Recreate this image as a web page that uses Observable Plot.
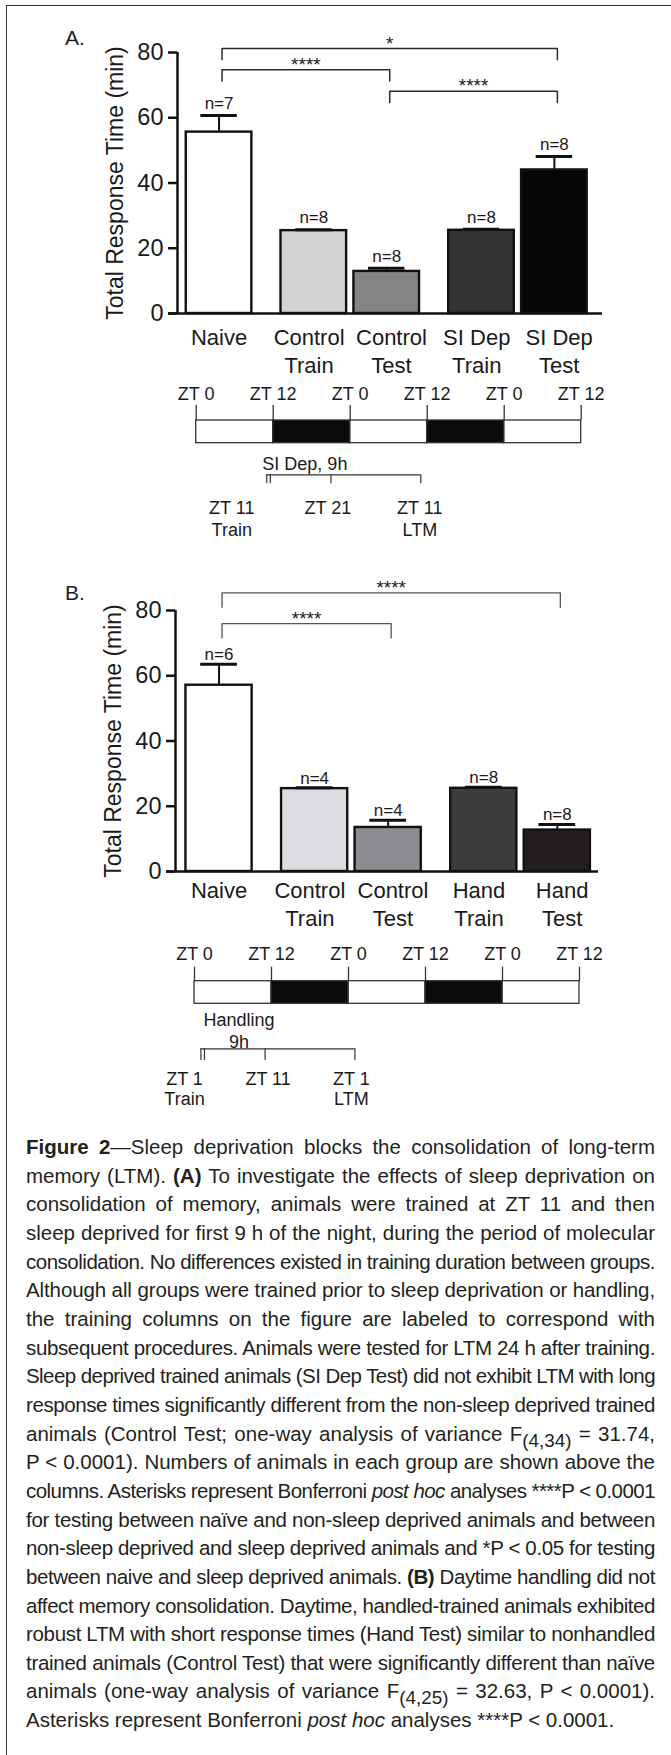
<!DOCTYPE html>
<html>
<head>
<meta charset="utf-8">
<script src="https://cdn.jsdelivr.net/npm/d3@7"></script>
<script src="https://cdn.jsdelivr.net/npm/@observablehq/plot@0.6"></script>
<style>
html, body { margin: 0; padding: 0; background: #fff; }
#page { position: relative; width: 671px; height: 1755px; overflow: hidden; background: #fff;
  font-family: "Liberation Sans", Arial, Helvetica, sans-serif; color: #231f20; }
.abs { position: absolute; }
.panel-letter { font-size: 21px; line-height: 1; }
.chart svg { overflow: visible; }
.chart g[aria-label^="y-axis"] path, .chart g[aria-label^="y-axis"] line { stroke-width: 2.5px; stroke: #111; }
#caption { position: absolute; left: 26px; top: 1133px; width: 629px; font-size: 20.5px; line-height: 28.65px; color: #231f20; }
#caption .ln { white-space: nowrap; }
#caption sub { font-size: 0.92em; vertical-align: -0.32em; line-height: 0; }
</style>
</head>
<body>
<div id="page"></div>
<script>
// ---------------- DATA ----------------
// Panel A
const categoriesA = ["Naive", "Control Train", "Control Test", "SI Dep Train", "SI Dep Test"];
const tickLabelsA = ["Naive", "Control\nTrain", "Control\nTest", "SI Dep\nTrain", "SI Dep\nTest"];
const groupsA = ["Naive", "Control", "Control", "SI Dep", "SI Dep"];
const meansA = [55.6, 25.4, 12.9, 25.5, 44.0];
const semA = [5.1, 0.3, 1.0, 0.3, 4.1];
const nA = [7, 8, 8, 8, 8];
const bracketFromA = ["Naive", "Naive", "Control Test"];
const bracketToA = ["SI Dep Test", "Control Test", "SI Dep Test"];
const bracketLevelA = [81.2, 74.7, 68.1];
const bracketLabelA = ["*", "****", "****"];

// Panel B
const categoriesB = ["Naive", "Control Train", "Control Test", "Hand Train", "Hand Test"];
const tickLabelsB = ["Naive", "Control\nTrain", "Control\nTest", "Hand\nTrain", "Hand\nTest"];
const groupsB = ["Naive", "Control", "Control", "Hand", "Hand"];
const meansB = [57.1, 25.4, 13.5, 25.5, 12.7];
const semB = [6.4, 0.3, 2.2, 0.3, 1.7];
const nB = [6, 4, 4, 8, 8];
const bracketFromB = ["Naive", "Naive"];
const bracketToB = ["Hand Test", "Control Test"];
const bracketLevelB = [85.4, 76.0];
const bracketLabelB = ["****", "****"];

const yTicks = [0, 20, 40, 60, 80];
const yLabel = "Total Response Time (min)";

// Timelines (hours from first ZT 0)
const ztHours = [0, 12, 24, 36, 48, 60];
const ztLabels = ["ZT 0", "ZT 12", "ZT 0", "ZT 12", "ZT 0", "ZT 12"];
const eventHoursA = [11, 21, 35];
const eventLabelsA = ["ZT 11\nTrain", "ZT 21", "ZT 11\nLTM"];
const treatmentA = "SI Dep, 9h";
const eventHoursB = [1, 11, 25];
const eventLabelsB = ["ZT 1\nTrain", "ZT 11", "ZT 1\nLTM"];
const treatmentB = "Handling\n9h";

// ---------------- STYLES ----------------
const FONT = '"Liberation Sans", Arial, Helvetica, sans-serif';
const fillsA = ["#ffffff", "#d3d3d3", "#848484", "#333333", "#060606"];
const fillsB = ["#ffffff", "#dcdde0", "#8d8e91", "#3c3c3e", "#231f20"];
const GROUP_GAP = 0.3, HALF = 0.45, CAP = 0.25, LABEL_SPREAD = 0.065;

function barChart(o) {
  const gOrder = [...new Set(o.groups)];
  const rows = o.cats.map((c, i) => {
    const members = o.groups.filter(g => g === o.groups[i]).length;
    const within = o.groups.slice(0, i).filter(g => g === o.groups[i]).length;
    return {
      cat: c, label: o.labels[i], mean: o.means[i], sem: o.sem[i], n: o.ns[i],
      pos: i + GROUP_GAP * gOrder.indexOf(o.groups[i]),
      spread: members > 1 ? (within === 0 ? -LABEL_SPREAD : LABEL_SPREAD) : 0
    };
  });
  const posOf = Object.fromEntries(rows.map(r => [r.cat, r.pos]));
  const br = o.bFrom.map((f, k) => ({k, from: posOf[f], to: posOf[o.bTo[k]], y: o.bLevel[k], label: o.bLabel[k]}));
  const brPts = br.flatMap(b => [
    {k: b.k, x: b.from, y: b.y - o.leg}, {k: b.k, x: b.from, y: b.y},
    {k: b.k, x: b.to, y: b.y}, {k: b.k, x: b.to, y: b.y - o.leg}
  ]);
  return Plot.plot({
    width: 671, height: 375,
    marginTop: 52, marginBottom: 62, marginLeft: o.marginLeft, marginRight: o.marginRight,
    style: {fontFamily: FONT, fontSize: "23.5px", color: "#1a1a1a", background: "transparent", overflow: "visible"},
    x: {domain: o.domainX, axis: null},
    y: {domain: [0, 80], ticks: yTicks, tickSize: 9, tickPadding: 5, label: null},
    color: {domain: o.cats, range: o.fills},
    marks: [
      Plot.rect(rows, {x1: d => d.pos - HALF, x2: d => d.pos + HALF, y1: 0, y2: "mean", fill: "cat", stroke: "#111", strokeWidth: 2.4}),
      Plot.ruleX(rows, {x: "pos", y1: "mean", y2: d => d.mean + d.sem, stroke: "#111", strokeWidth: 2}),
      Plot.ruleY(rows, {y: d => d.mean + d.sem, x1: d => d.pos - CAP, x2: d => d.pos + CAP, stroke: "#111", strokeWidth: 3}),
      Plot.text(rows, {x: "pos", y: d => d.mean + d.sem, text: d => "n=" + d.n, dy: o.nDy, fontSize: 17}),
      Plot.text(rows, {x: d => d.pos + d.spread, y: 0, text: "label", lineAnchor: "top", dy: o.labelDy, lineHeight: 1.28, fontSize: 22}),
      Plot.line(brPts, {x: "x", y: "y", z: "k", stroke: o.bStroke, strokeWidth: o.bWidth, dx: 3}),
      Plot.text(br, {x: b => (b.from + b.to) / 2, y: "y", text: "label", dy: -5, dx: 3, fontSize: 19}),
      Plot.ruleX([o.domainX[0]], {y1: 0, y2: 80, stroke: "#111", strokeWidth: 2.5}),
      Plot.ruleY([0], {insetLeft: -9, stroke: "#111", strokeWidth: 2.5}),
      Plot.text([yLabel], {text: d => d, frameAnchor: "left", textAnchor: "middle", lineAnchor: "middle", rotate: -90, dx: -62, fontSize: 23})
    ]
  });
}

function timeline(o) {
  const L = o.layout;
  const phases = ztHours.slice(0, -1).map((h, i) => ({start: h, end: ztHours[i + 1], dark: ztLabels[i] === "ZT 12"}));
  const ev = o.events;
  return Plot.plot({
    width: 671, height: 180,
    marginTop: 0, marginBottom: 0, marginLeft: o.marginLeft, marginRight: 671 - o.marginLeft - 385,
    style: {fontFamily: FONT, fontSize: "18px", color: "#1a1a1a", background: "transparent", overflow: "visible"},
    x: {domain: [0, 60], axis: null},
    y: {domain: [0, 180], range: [0, 180], axis: null},
    marks: [
      Plot.rect(phases.filter(p => !p.dark), {x1: "start", x2: "end", y1: L.barTop, y2: L.barBottom, fill: "#fff", stroke: "#333", strokeWidth: 1.3}),
      Plot.rect(phases.filter(p => p.dark), {x1: "start", x2: "end", y1: L.barTop, y2: L.barBottom, fill: "#0b0b0b", stroke: "#333", strokeWidth: 1.3}),
      Plot.ruleX(ztHours, {x: d => d, y1: L.tickTop, y2: L.barTop, stroke: "#333", strokeWidth: 1.3}),
      Plot.text(ztHours, {x: d => d, y: L.zt, text: (d, i) => ztLabels[i], fontSize: 18}),
      // treatment bracket
      Plot.ruleY([L.bracket], {x1: ev[0], x2: ev[2], stroke: "#333", strokeWidth: 1.2}),
      Plot.ruleX([ev[0], ev[0] + 0.55, ev[1], ev[2]], {x: d => d, y1: L.bracket, y2: L.bracketTick, stroke: "#333", strokeWidth: 1.2}),
      Plot.text([o.treatment], {x: (ev[0] + ev[1]) / 2, y: L.treat, text: d => d, lineAnchor: "top", lineHeight: 1.2, dx: 6, fontSize: 18}),
      // event labels
      Plot.text([o.eventLabels[0]], {x: ev[0], y: L.event, text: d => d, lineAnchor: "top", lineHeight: o.lh, dx: o.firstDx, fontSize: 18}),
      Plot.text([o.eventLabels[1]], {x: ev[1], y: L.event, text: d => d, lineAnchor: "top", lineHeight: o.lh, dx: o.midDx, fontSize: 18}),
      Plot.text([o.eventLabels[2]], {x: ev[2], y: L.event, text: d => d, lineAnchor: "top", lineHeight: o.lh, dx: o.lastDx, fontSize: 18})
    ]
  });
}

// ---------------- LAYOUT ----------------
const page = document.getElementById("page");
function place(el, left, top, cls) {
  const d = document.createElement("div");
  d.className = "abs " + (cls || "");
  d.style.left = left + "px"; d.style.top = top + "px";
  if (typeof el === "string") d.textContent = el; else d.appendChild(el);
  page.appendChild(d);
  return d;
}
// frame lines
const fl = document.createElement("div"); fl.className = "abs"; fl.style.cssText = "left:5.5px;top:4.5px;width:1.5px;height:1760px;background:#333;"; page.appendChild(fl);
const ft = document.createElement("div"); ft.className = "abs"; ft.style.cssText = "left:5.5px;top:4.5px;width:670px;height:1.5px;background:#333;"; page.appendChild(ft);

place("A.", 65, 27, "panel-letter");
place(barChart({
  cats: categoriesA, labels: tickLabelsA, groups: groupsA, means: meansA, sem: semA, ns: nA, fills: fillsA,
  bFrom: bracketFromA, bTo: bracketToA, bLevel: bracketLevelA, bLabel: bracketLabelA, leg: 3.4,
  bStroke: "#2a2a2a", bWidth: 1.5,
  domainX: [-0.57, 5.26], marginLeft: 177, marginRight: 69, labelDy: 11, nDy: -12
}), 0, 0, "chart");

place(timeline({
  layout: {zt: 23.3, tickTop: 35, barTop: 50, barBottom: 72.7, treat: 84.3, bracket: 104.3, bracketTick: 113.3, event: 128.6},
  events: eventHoursA, eventLabels: eventLabelsA, treatment: treatmentA,
  firstDx: -35, midDx: -3, lastDx: -1, lh: 1.2, marginLeft: 195.7
}), 0, 370, "chart");

place("B.", 65, 582, "panel-letter");
place(barChart({
  cats: categoriesB, labels: tickLabelsB, groups: groupsB, means: meansB, sem: semB, ns: nB, fills: fillsB,
  bFrom: bracketFromB, bTo: bracketToB, bLevel: bracketLevelB, bLabel: bracketLabelB, leg: 4.4,
  bStroke: "#555", bWidth: 1.3,
  domainX: [-0.592, 5.16], marginLeft: 175, marginRight: 73, labelDy: 6.4, nDy: -9.5
}), 0, 557.5, "chart");

place(timeline({
  layout: {zt: 23.3, tickTop: 36.7, barTop: 50.7, barBottom: 73.3, treat: 80.3, bracket: 118.3, bracketTick: 130, event: 140.3},
  events: eventHoursB, eventLabels: eventLabelsB, treatment: treatmentB,
  firstDx: -16.4, midDx: 3, lastDx: -3.5, lh: 1.12, marginLeft: 194
}), 0, 930, "chart");

// ---------------- CAPTION ----------------
const captionLines = [
  '<b>Figure 2</b>—Sleep deprivation blocks the consolidation of long-term',
  'memory (LTM). <b>(A)</b> To investigate the effects of sleep deprivation on',
  'consolidation of memory, animals were trained at ZT 11 and then',
  'sleep deprived for first 9 h of the night, during the period of molecular',
  'consolidation. No differences existed in training duration between groups.',
  'Although all groups were trained prior to sleep deprivation or handling,',
  'the training columns on the figure are labeled to correspond with',
  'subsequent procedures. Animals were tested for LTM 24 h after training.',
  'Sleep deprived trained animals (SI Dep Test) did not exhibit LTM with long',
  'response times significantly different from the non-sleep deprived trained',
  'animals (Control Test; one-way analysis of variance F<sub>(4,34)</sub> = 31.74,',
  'P &lt; 0.0001). Numbers of animals in each group are shown above the',
  'columns. Asterisks represent Bonferroni <i>post hoc</i> analyses ****P &lt; 0.0001',
  'for testing between naïve and non-sleep deprived animals and between',
  'non-sleep deprived and sleep deprived animals and *P &lt; 0.05 for testing',
  'between naive and sleep deprived animals. <b>(B)</b> Daytime handling did not',
  'affect memory consolidation. Daytime, handled-trained animals exhibited',
  'robust LTM with short response times (Hand Test) similar to nonhandled',
  'trained animals (Control Test) that were significantly different than naïve',
  'animals (one-way analysis of variance F<sub>(4,25)</sub> = 32.63, P &lt; 0.0001).',
  'Asterisks represent Bonferroni <i>post hoc</i> analyses ****P &lt; 0.0001.'
];
const cap = document.createElement("div");
cap.id = "caption";
const spans = captionLines.map(html => {
  const d = document.createElement("div"); d.className = "ln";
  const s = document.createElement("span"); s.innerHTML = html;
  d.appendChild(s); cap.appendChild(d); return s;
});
page.appendChild(cap);
function fitCaption() {
  const W = 629;
  spans.forEach((s, i) => {
    s.style.letterSpacing = ""; s.style.wordSpacing = "";
    if (i === spans.length - 1) return;
    const txt = s.textContent;
    let w = s.getBoundingClientRect().width;
    if (w > W) { s.style.letterSpacing = ((W - w) / txt.length) + "px"; w = s.getBoundingClientRect().width; }
    const nSp = (txt.match(/ /g) || []).length;
    if (nSp) s.style.wordSpacing = ((W - w) / nSp) + "px";
  });
}
fitCaption();
if (document.fonts && document.fonts.ready) document.fonts.ready.then(fitCaption);
</script>
</body>
</html>
